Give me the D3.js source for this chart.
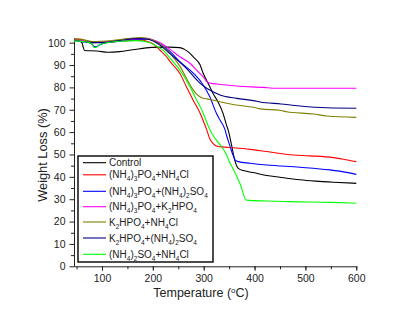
<!DOCTYPE html>
<html>
<head>
<meta charset="utf-8">
<script src="https://cdn.jsdelivr.net/npm/d3@7"></script>
<style>
  body { margin: 0; background: #fff; }
  svg text { font-family: "Liberation Sans", Arial, sans-serif; fill: #222; }
</style>
</head>
<body>
<div id="chart"></div>
<script>
// TGA curves, [temperature (C), weight (%)]
var control = [[45,101.3],[55,100.8],[61,99.8],[63,98],[66,96.5],[90,96.3],[112,95.7],[135,96],[160,96.8],[198,97.9],[233,98],[253,97.8],[262,97],[273,95.2],[280,93.5],[293,90],[299,86.3],[306,83],[312,80.3],[319,77],[327,74],[338,68.4],[345,63],[348,61],[355,54],[361,47.5],[368,43.8],[378,42.8],[400,41.8],[424,40.6],[450,39.8],[489,38.7],[520,38.1],[555,37.6],[600,37.1]];
var ap_ac = [[45,100.8],[57,101.5],[66,100.8],[76,100],[100,100.2],[130,100.6],[160,101],[180,101.1],[191,100.4],[200,99.5],[207,98.2],[217,96],[227,93.7],[234,91.5],[253,86.3],[266,80.3],[279,74.4],[293,68.4],[300,64.5],[306,61],[312,57],[318,55],[325,53.8],[335,53.4],[358,53],[391,52.3],[424,51.3],[476,49.8],[508,49.4],[555,48.6],[575,47.9],[600,46.8]];
var ap_as = [[45,101],[60,100.5],[78,99.8],[84,98.4],[88,98.2],[95,99],[103,99.7],[130,100.5],[160,101.3],[188,101.7],[200,101.2],[207,100.5],[220,98.5],[234,96],[253,91.5],[280,86.3],[299,81.1],[312,75.8],[325,68.4],[332,65.4],[342,61],[345,58.5],[351,54.2],[358,49.5],[362,47.5],[368,46.8],[391,46.1],[424,45.3],[489,44.3],[548,43.1],[581,42],[600,41.1]];
var ap_kp = [[45,101.2],[60,101],[75,100.5],[100,100.3],[140,101],[170,101.7],[188,102],[200,101.2],[214,100],[234,97],[253,93.7],[273,90.8],[292,86.3],[300,84.5],[306,82.6],[315,81.8],[325,81.5],[365,80.6],[417,80],[443,79.6],[600,79.6]];
var kp_ac = [[45,101.8],[60,101.5],[80,100.5],[120,101],[150,101.8],[175,102.3],[190,101.8],[210,100],[227,97],[240,93.5],[253,89.5],[266,84.1],[276,80],[286,77],[295,75.5],[302,75],[312,74.6],[332,73.6],[365,72.1],[398,71.1],[411,70.4],[452,69.7],[463,69.1],[516,68.1],[542,67.2],[600,66.6]];
var kp_as = [[45,101],[70,100.3],[90,100],[100,100],[130,100.8],[170,101.8],[190,101.5],[210,99.5],[234,95],[266,88.5],[293,81.8],[306,79.6],[332,76.6],[365,75.1],[398,74.1],[411,73.5],[452,72.6],[489,71.7],[542,70.9],[600,70.7]];
var as_ac = [[45,100.8],[70,100.3],[80,99.5],[85,97.8],[89,98],[95,99],[110,100],[140,100.7],[168,100.9],[194,100],[207,98.5],[220,96.7],[234,93],[253,87.8],[273,80.3],[286,74.4],[293,71.4],[299,68.4],[310,62.2],[319,58.3],[332,54.4],[345,49.8],[350,47],[358,43.5],[371,37.1],[384,29.6],[424,29.2],[470,28.9],[550,28.6],[600,28.2]];

// legend labels (digits are written as subscripts) and colours
var seriesNames = ["Control", "(NH4)3PO4+NH4Cl", "(NH4)3PO4+(NH4)2SO4", "(NH4)3PO4+K2HPO4",
                   "K2HPO4+NH4Cl", "K2HPO4+(NH4)2SO4", "(NH4)2SO4+NH4Cl"];
var seriesColors = ["#000000", "#ff0000", "#0000ff", "#ff00ff", "#808000", "#000080", "#00ff00"];
var seriesData = [control, ap_ac, ap_as, ap_kp, kp_ac, kp_as, as_ac];

var xTicks = [100, 200, 300, 400, 500, 600];
var yTicks = [0, 10, 20, 30, 40, 50, 60, 70, 80, 90, 100];

var width = 417, height = 322;
var svg = d3.select("#chart").append("svg")
    .attr("width", width)
    .attr("height", height);

var x = d3.scaleLinear().domain([45, 600]).range([74, 356.3]);
var y = d3.scaleLinear().domain([0, 102]).range([266.3, 38.2]);

// minor ticks
svg.append("g")
    .attr("transform", "translate(0," + y(0) + ")")
    .call(d3.axisBottom(x).tickValues(d3.range(50, 601, 50)).tickSize(3).tickFormat(""))
    .call(function(g) { g.select(".domain").remove(); });
svg.append("g")
    .attr("transform", "translate(" + x(45) + ",0)")
    .call(d3.axisLeft(y).tickValues(d3.range(5, 101, 10)).tickSize(3).tickFormat(""))
    .call(function(g) { g.select(".domain").remove(); });

var xAxis = svg.append("g")
    .attr("transform", "translate(0," + y(0) + ")")
    .call(d3.axisBottom(x).tickValues(xTicks).tickSize(4.5).tickSizeOuter(0).tickPadding(4));
var yAxis = svg.append("g")
    .attr("transform", "translate(" + x(45) + ",0)")
    .call(d3.axisLeft(y).tickValues(yTicks).tickSize(4.5).tickSizeOuter(0).tickPadding(4));

svg.selectAll(".tick line, .domain").attr("stroke", "#222");
svg.selectAll(".tick text")
    .style("font-family", "Liberation Sans, Arial, sans-serif")
    .style("font-size", "10.5px")
    .attr("fill", "#222");

// curves
var line = d3.line()
    .x(function(d) { return x(d[0]); })
    .y(function(d) { return y(d[1]); })
    .curve(d3.curveMonotoneX);

svg.selectAll(".curve")
    .data(seriesData)
    .enter()
    .append("path")
    .attr("class", "curve")
    .attr("d", line)
    .attr("fill", "none")
    .attr("stroke", function(d, i) { return seriesColors[i]; })
    .attr("stroke-width", 1.1);

// axis titles
svg.append("text")
    .attr("transform", "translate(47,155) rotate(-90)")
    .attr("text-anchor", "middle")
    .style("font-size", "12.8px")
    .text("Weight Loss (%)");

var xt = svg.append("text")
    .attr("x", 201)
    .attr("y", 297)
    .attr("text-anchor", "middle")
    .style("font-size", "12.5px");
xt.append("tspan").text("Temperature (");
xt.append("tspan").attr("dy", -4.5).style("font-size", "8px").text("o");
xt.append("tspan").attr("dy", 4.5).text("C)");

// legend
var legend = svg.append("g");
legend.append("rect")
    .attr("x", 78).attr("y", 156)
    .attr("width", 135).attr("height", 106)
    .attr("fill", "#fff")
    .attr("stroke", "#000")
    .attr("stroke-width", 1.4);

var rowOffsets = [6.7, 18.8, 35.3, 50.7, 66, 82, 98.3];

function addLabel(textSel, label) {
    var parts = label.match(/\d+|\D+/g);
    var shifted = false;
    parts.forEach(function(p) {
        var isSub = /\d/.test(p);
        var t = textSel.append("tspan").text(p);
        if (isSub && !shifted) { t.attr("dy", 3).style("font-size", "6.5px"); shifted = true; }
        else if (!isSub && shifted) { t.attr("dy", -3); shifted = false; }
    });
}

seriesNames.forEach(function(name, i) {
    var ry = 156 + rowOffsets[i];
    legend.append("line")
        .attr("x1", 83).attr("x2", 106)
        .attr("y1", ry).attr("y2", ry)
        .attr("stroke", seriesColors[i])
        .attr("stroke-width", 1.1);
    var t = legend.append("text")
        .attr("x", 109)
        .attr("y", ry + 3.5)
        .style("font-size", "10px");
    addLabel(t, name);
});
</script>
</body>
</html>
